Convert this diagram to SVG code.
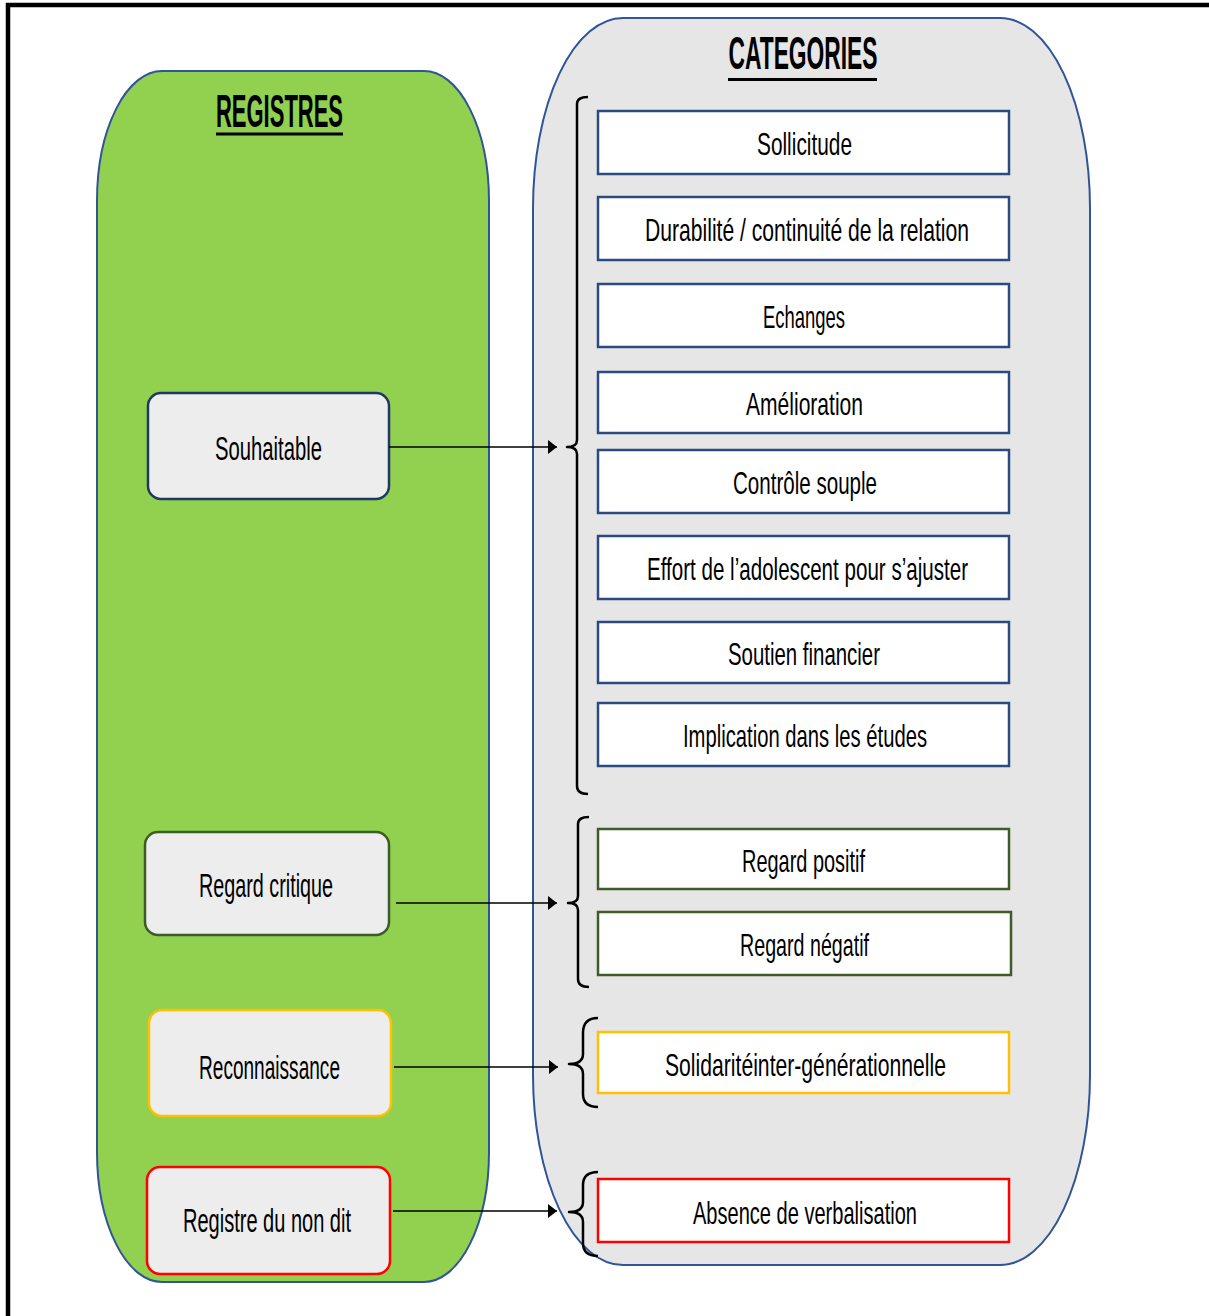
<svg xmlns="http://www.w3.org/2000/svg" width="1209" height="1316" viewBox="0 0 1209 1316">
<style>
.t{font-family:"Liberation Sans",Arial,sans-serif;font-size:32px;fill:#000;text-anchor:middle}
.tl{font-family:"Liberation Sans",Arial,sans-serif;font-size:34px;fill:#000;text-anchor:middle}
.h{font-family:"Liberation Sans",Arial,sans-serif;font-size:47px;font-weight:bold;fill:#000;text-anchor:middle}
.cat{fill:#fff;stroke-width:2.5}
.blue{stroke:#2B4A80}
.green{stroke:#3D5C28}
.gold{stroke:#FFC000}
.red{stroke:#FF0000}
.node{fill:#EDEDED;stroke-width:2.5}
.brace{fill:none;stroke:#000;stroke-width:2.5;stroke-linejoin:round}
.conn{stroke:#000;stroke-width:1.5;fill:none;marker-end:url(#arr)}
</style>
<defs>
<marker id="arr" markerWidth="10" markerHeight="14" refX="9" refY="7" orient="auto" markerUnits="userSpaceOnUse">
<path d="M0,0 L9,7 L0,14 Z" fill="#000"/>
</marker>
</defs>
<rect width="1209" height="1316" fill="#fff"/>
<path d="M8 1316 V5 H1209" fill="none" stroke="#000" stroke-width="4.5"/>
<g id="panel-registres">
<rect x="97" y="71" width="392" height="1211" rx="65" ry="130" fill="#92D050" stroke="#2F5597" stroke-width="2"/>
<text class="h" x="279.5" y="127" textLength="127" lengthAdjust="spacingAndGlyphs">REGISTRES</text>
<rect x="216" y="132.5" width="127" height="3" fill="#000"/>
</g>
<g id="panel-categories">
<rect x="533" y="18" width="557" height="1247" rx="90" ry="190" fill="#E7E6E6" stroke="#2F5597" stroke-width="2"/>
<text class="h" x="803" y="69" textLength="149" lengthAdjust="spacingAndGlyphs">CATEGORIES</text>
<rect x="728" y="78" width="149" height="3" fill="#000"/>
</g>
<g id="node-souhaitable">
<rect class="node" x="148" y="393" width="241" height="106" rx="13" stroke="#1F3864"/>
<text class="tl" x="268.5" y="460" textLength="107" lengthAdjust="spacingAndGlyphs">Souhaitable</text>
</g>
<g id="node-regard-critique">
<rect class="node" x="145" y="832" width="244" height="103" rx="13" stroke="#3D5C28"/>
<text class="tl" x="266" y="897" textLength="134" lengthAdjust="spacingAndGlyphs">Regard critique</text>
</g>
<g id="node-reconnaissance">
<rect class="node" x="149" y="1010" width="242" height="106" rx="13" stroke="#FFC000"/>
<text class="tl" x="269.5" y="1079" textLength="141" lengthAdjust="spacingAndGlyphs">Reconnaissance</text>
</g>
<g id="node-registre-non-dit">
<rect class="node" x="147" y="1167" width="243" height="107" rx="13" stroke="#FF0000"/>
<text class="tl" x="267" y="1232" textLength="168" lengthAdjust="spacingAndGlyphs">Registre du non dit</text>
</g>
<g id="cat-sollicitude">
<rect class="cat blue" x="598" y="111" width="411" height="63"/>
<text class="t" x="804.5" y="155" textLength="95" lengthAdjust="spacingAndGlyphs">Sollicitude</text>
</g>
<g id="cat-durabilite">
<rect class="cat blue" x="598" y="197" width="411" height="63"/>
<text class="t" x="807" y="241" textLength="324" lengthAdjust="spacingAndGlyphs">Durabilité / continuité de la relation</text>
</g>
<g id="cat-echanges">
<rect class="cat blue" x="598" y="284" width="411" height="63"/>
<text class="t" x="804" y="328" textLength="82" lengthAdjust="spacingAndGlyphs">Echanges</text>
</g>
<g id="cat-amelioration">
<rect class="cat blue" x="598" y="372" width="411" height="61"/>
<text class="t" x="804.5" y="415" textLength="117" lengthAdjust="spacingAndGlyphs">Amélioration</text>
</g>
<g id="cat-controle">
<rect class="cat blue" x="598" y="450" width="411" height="63"/>
<text class="t" x="805" y="494" textLength="144" lengthAdjust="spacingAndGlyphs">Contrôle souple</text>
</g>
<g id="cat-effort">
<rect class="cat blue" x="598" y="536" width="411" height="63"/>
<text class="t" x="807.5" y="580" textLength="321" lengthAdjust="spacingAndGlyphs">Effort de l’adolescent pour s’ajuster</text>
</g>
<g id="cat-soutien">
<rect class="cat blue" x="598" y="622" width="411" height="61"/>
<text class="t" x="804" y="665" textLength="152" lengthAdjust="spacingAndGlyphs">Soutien financier</text>
</g>
<g id="cat-implication">
<rect class="cat blue" x="598" y="703" width="411" height="63"/>
<text class="t" x="805" y="747" textLength="244" lengthAdjust="spacingAndGlyphs">Implication dans les études</text>
</g>
<g id="cat-regard-positif">
<rect class="cat green" x="598" y="829" width="411" height="60"/>
<text class="t" x="803.5" y="872" textLength="123" lengthAdjust="spacingAndGlyphs">Regard positif</text>
</g>
<g id="cat-regard-negatif">
<rect class="cat green" x="598" y="912" width="413" height="63"/>
<text class="t" x="804.5" y="956" textLength="129" lengthAdjust="spacingAndGlyphs">Regard négatif</text>
</g>
<g id="cat-solidarite">
<rect class="cat gold" x="598" y="1032" width="411" height="61"/>
<text class="t" x="805.5" y="1076" textLength="281" lengthAdjust="spacingAndGlyphs">Solidaritéinter-générationnelle</text>
</g>
<g id="cat-absence">
<rect class="cat red" x="598" y="1179" width="411" height="63"/>
<text class="t" x="805" y="1224" textLength="224" lengthAdjust="spacingAndGlyphs">Absence de verbalisation</text>
</g>
<g id="braces">
<path class="brace" d="M588 97 Q577 97 577 104 L577 440 Q577 447 567 447 Q577 447 577 454 L577 786 Q577 794 588 794"/>
<path class="brace" d="M589 817 Q578 817 578 824 L578 896 Q578 903 568 903 Q578 903 578 910 L578 979 Q578 987 589 987"/>
<path class="brace" d="M598 1018 Q583 1018 583 1033 L583 1054 Q583 1064 569 1064 Q583 1064 583 1074 L583 1094 Q583 1107 598 1107"/>
<path class="brace" d="M598 1172 Q583 1172 583 1185 L583 1202 Q583 1212 569 1212 Q583 1212 583 1222 L583 1243 Q583 1256 598 1256"/>
</g>
<g id="connectors">
<line class="conn" x1="389" y1="447" x2="557" y2="447"/>
<line class="conn" x1="396" y1="903" x2="557" y2="903"/>
<line class="conn" x1="394" y1="1067" x2="558" y2="1067"/>
<line class="conn" x1="393" y1="1211" x2="557" y2="1211"/>
</g>
</svg>
